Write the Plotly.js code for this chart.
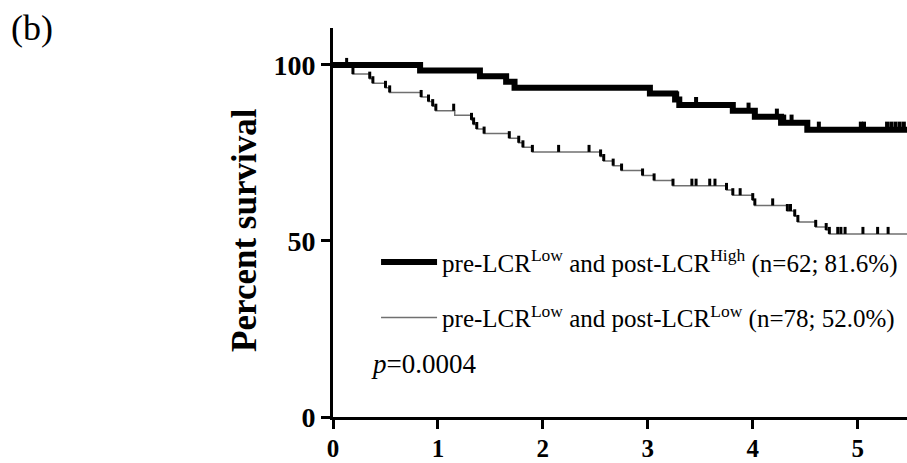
<!DOCTYPE html>
<html>
<head>
<meta charset="utf-8">
<script src="https://cdn.plot.ly/plotly-3.0.1.min.js"></script>
<style>html,body{margin:0;padding:0;background:#fff;}#chart{width:907px;height:463px;}</style>
</head>
<body>
<div id="chart"></div>
<script>
// Group 1: pre-LCR Low and post-LCR High (n=62)
var highTimes = [0, 0.83, 1.40, 1.65, 1.73, 3.02, 3.26, 3.30, 3.81, 4.02, 4.27, 4.52, 5.47];
var highSurv  = [100, 98.4, 96.8, 95.2, 93.5, 91.9, 90.2, 88.6, 87.0, 85.3, 83.6, 81.6, 81.6];
var highCensor = [3.28, 3.46, 3.81, 3.96, 4.02, 4.23, 4.30, 4.37, 4.63, 5.03, 5.06, 5.28, 5.32, 5.36, 5.40, 5.44];

// Group 2: pre-LCR Low and post-LCR Low (n=78)
var lowTimes = [0, 0.19, 0.35, 0.38, 0.50, 0.54, 0.84, 0.91, 0.95, 0.98, 1.16, 1.32, 1.34, 1.37, 1.44,
                1.68, 1.77, 1.81, 1.90, 2.55, 2.58, 2.67, 2.75, 2.95, 3.06, 3.24, 3.75, 3.81, 4.00, 4.02,
                4.33, 4.40, 4.43, 4.60, 4.70, 4.73, 5.47];
var lowSurv  = [100, 97.4, 96.1, 94.8, 93.5, 92.2, 90.9, 89.6, 88.3, 87.0, 85.7, 84.4, 83.1, 81.8, 80.5,
                79.2, 77.9, 76.6, 75.3, 74.0, 72.7, 71.4, 70.0, 68.6, 67.2, 65.7, 64.5, 63.0, 61.6, 60.1,
                58.5, 57.0, 55.4, 54.0, 53.1, 52.0, 52.0];
var lowCensor = [0.13, 0.19, 0.35, 0.38, 0.50, 0.54, 0.84, 0.91, 0.95, 0.98, 1.15, 1.32, 1.34, 1.37, 1.44,
                 1.68, 1.77, 1.81, 1.90, 2.15, 2.44, 2.55, 2.58, 2.67, 2.75, 2.95, 3.06, 3.24, 3.42, 3.46,
                 3.59, 3.64, 3.75, 3.81, 3.88, 4.00, 4.02, 4.19, 4.33, 4.36, 4.40, 4.43, 4.60, 4.70, 4.73,
                 4.81, 4.84, 4.88, 5.05, 5.19, 5.29];

var legendHigh = 'pre-LCR<sup>Low</sup> and post-LCR<sup>High</sup> (n=62; 81.6%)';
var legendLow  = 'pre-LCR<sup>Low</sup> and post-LCR<sup>Low</sup> (n=78; 52.0%)';
var pText = '<i>p</i>=0.0004';
var yTitle = '<b>Percent survival</b>';
var xTicks = [0, 1, 2, 3, 4, 5];
var yTicks = [0, 50, 100];

function stepAt(times, surv, t) {
  var v = surv[0];
  for (var i = 0; i < times.length; i++) { if (times[i] <= t) v = surv[i]; }
  return v;
}
function levels(times, surv, cens) { return cens.map(function (t) { return stepAt(times, surv, t); }); }

var serif = 'Liberation Serif';

var traces = [
  {x: lowTimes, y: lowSurv, mode: 'lines', line: {shape: 'hv', color: '#707070', width: 1.5},
   name: legendLow, legendgroup: 'b', legendrank: 2, hoverinfo: 'skip'},
  {x: lowCensor, y: levels(lowTimes, lowSurv, lowCensor), mode: 'markers', showlegend: false,
   marker: {size: 1, color: 'rgba(0,0,0,0)'}, hoverinfo: 'skip',
   error_y: {type: 'constant', value: 2.0, symmetric: false, valueminus: 0, width: 0, thickness: 3, color: '#000'}},
  {x: highTimes, y: highSurv, mode: 'lines', line: {shape: 'hv', color: '#000', width: 6},
   name: legendHigh, legendgroup: 'a', legendrank: 1, hoverinfo: 'skip'},
  {x: highCensor, y: levels(highTimes, highSurv, highCensor), mode: 'markers', showlegend: false,
   marker: {size: 1, color: 'rgba(0,0,0,0)'}, hoverinfo: 'skip',
   error_y: {type: 'constant', value: 2.3, symmetric: false, valueminus: 0, width: 0, thickness: 4, color: '#000'}}
];

var layout = {
  width: 907, height: 463,
  margin: {l: 333, r: 0, t: 28, b: 46},
  paper_bgcolor: '#fff', plot_bgcolor: '#fff',
  font: {family: serif, color: '#000'},
  showlegend: true,
  legend: {x: 0.075, y: 0.457, xanchor: 'left', yanchor: 'top', traceorder: 'grouped', tracegroupgap: 20,
           font: {family: serif, size: 25, color: '#000'}, bgcolor: 'rgba(0,0,0,0)', itemwidth: 56},
  xaxis: {range: [0, 5.47], tickvals: xTicks, ticktext: xTicks.map(String), showgrid: false, zeroline: false,
          showline: true, linecolor: '#000', linewidth: 3, ticks: 'outside', ticklen: 9, tickwidth: 3,
          tickcolor: '#000', ticklabelstandoff: -2, tickfont: {family: serif, size: 25, color: '#000', weight: 'bold'}},
  yaxis: {range: [0, 110.5], tickvals: yTicks, ticktext: yTicks.map(String), showgrid: false, zeroline: false,
          showline: true, linecolor: '#000', linewidth: 3, ticks: 'outside', ticklen: 9, tickwidth: 3,
          tickcolor: '#000', tickfont: {family: serif, size: 28, color: '#000', weight: 'bold'}},
  annotations: [
    {text: yTitle, xref: 'paper', yref: 'paper', x: -0.1533, y: 0.481, xanchor: 'center', yanchor: 'middle',
     textangle: -90, showarrow: false, font: {family: serif, size: 35, color: '#000'}},
    {text: pText, xref: 'paper', yref: 'paper', x: 0.063, y: 0.135, xanchor: 'left', yanchor: 'middle',
     showarrow: false, font: {family: serif, size: 27, color: '#000'}},
    {text: '(b)', xref: 'paper', yref: 'paper', x: -0.565, y: 1.0, xanchor: 'left', yanchor: 'middle',
     showarrow: false, font: {family: serif, size: 36, color: '#000'}}
  ]
};

Plotly.newPlot('chart', traces, layout, {displayModeBar: false, staticPlot: true});
</script>
</body>
</html>
